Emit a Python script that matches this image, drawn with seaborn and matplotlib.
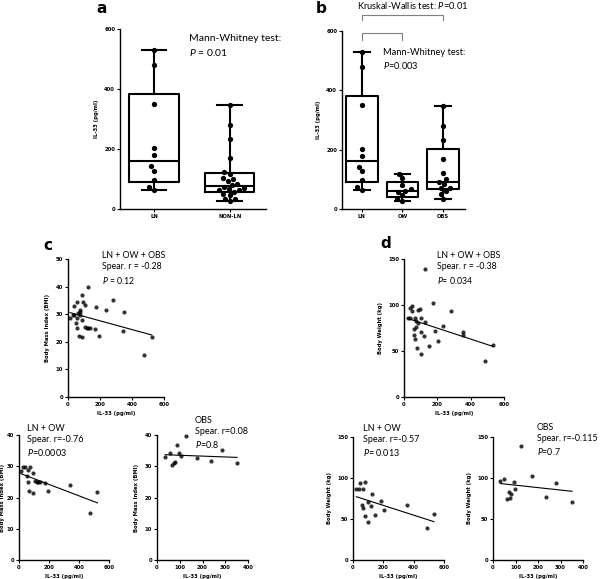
import numpy as np
import pandas as pd
import matplotlib
matplotlib.use("Agg")
import matplotlib.pyplot as plt
import seaborn as sns

ln_il33 = [530, 480, 350, 203, 180, 143, 128, 97, 75, 65]
ow_il33 = [117, 103, 81, 66, 62, 58, 47, 33, 26]
obs_il33 = [346, 279, 232, 170, 123, 100, 92, 84, 72, 70, 62, 50, 33]

# BMI vs IL-33 (panels e, f; c is both together)
lnow_bmi_x = [13, 29, 40, 57, 51, 57, 68, 73, 90, 90, 105, 117, 128, 138, 171, 193, 343, 475, 523]
lnow_bmi_y = [28.5, 29.8, 29.8, 28.8, 26.9, 25.1, 22.2, 29.8, 27.9, 21.6, 25.3, 24.9, 25.1, 25.1, 24.8, 22.2, 23.9, 15.2, 21.8]
obs_bmi_x = [36, 55, 65, 73, 77, 87, 95, 105, 128, 175, 236, 284, 352]
obs_bmi_y = [33.0, 34.3, 30.4, 30.9, 31.4, 36.9, 34.3, 33.4, 39.7, 32.5, 31.6, 35.1, 30.9]

# Body weight vs IL-33 (panels g, h; d is both together)
lnow_wt_x = [22, 37, 48, 81, 66, 59, 66, 77, 99, 99, 119, 127, 148, 183, 205, 356, 488, 534]
lnow_wt_y = [86.3, 86.3, 93.5, 94.8, 86.3, 66.9, 63.3, 53.2, 71.0, 46.8, 66.1, 81.0, 55.2, 71.4, 60.9, 66.9, 39.5, 56.0]
obs_wt_x = [33, 50, 62, 70, 74, 81, 95, 99, 126, 173, 236, 281, 351]
obs_wt_y = [96.8, 98.8, 74.2, 82.7, 76.2, 80.2, 95.6, 86.3, 138.7, 102.4, 77.4, 94.0, 70.2]

W, H = 600, 579
plt.rcParams['font.family'] = ['Lato', 'DejaVu Sans']
plt.rcParams['mathtext.fontset'] = 'custom'
plt.rcParams['mathtext.it'] = 'Lato:italic'
plt.rcParams['mathtext.rm'] = 'Lato'

fig = plt.figure(figsize=(W / 100, H / 100), dpi=100)


def px_axes(l, t, r, b):
    return fig.add_axes([l / W, 1 - b / H, (r - l) / W, (b - t) / H])


def px_text(x, y, s, **kw):
    kw.setdefault('fontsize', 7.5)
    fig.text(x / W, 1 - y / H, s, va='top', ha='left', **kw)


def panel_label(x, y, s):
    px_text(x, y, s, fontsize=11, fontweight='bold', family='DejaVu Sans')


def style(ax, ylabel, xlabel=None, ypad=4):
    sns.despine(ax=ax)
    for sp in ('left', 'bottom'):
        ax.spines[sp].set_linewidth(1.0)
    ax.tick_params(direction='out', length=2, width=0.8, labelsize=3.8, pad=1.5)
    for lab in ax.get_xticklabels() + ax.get_yticklabels():
        lab.set_fontweight('bold')
        lab.set_family('DejaVu Sans')
    ax.set_ylabel(ylabel, fontsize=3.8, fontweight='bold', family='DejaVu Sans', labelpad=ypad)
    ax.set_xlabel(xlabel or '', fontsize=3.8, fontweight='bold', family='DejaVu Sans', labelpad=3)


def box_panel(ax, groups, names, width, xlim):
    df = pd.DataFrame({
        'group': np.concatenate([[n] * len(g) for n, g in zip(names, groups)]),
        'il33': np.concatenate(groups),
    })
    sns.swarmplot(data=df, x='group', y='il33', order=names, color='black',
                  size=3.8, ax=ax, zorder=3)
    # Prism-style quartiles, whiskers min to max
    stats = []
    for g in groups:
        q1, med, q3 = np.percentile(g, [25, 50, 75], method='weibull')
        stats.append(dict(med=med, q1=q1, q3=q3, whislo=min(g), whishi=max(g), fliers=[]))
    lw = 1.5
    ax.bxp(stats, positions=range(len(groups)), widths=width, showfliers=False,
           manage_ticks=False,
           boxprops=dict(color='black', linewidth=lw),
           whiskerprops=dict(color='black', linewidth=lw),
           capprops=dict(color='black', linewidth=lw),
           medianprops=dict(color='black', linewidth=lw))
    ax.set_xlim(*xlim)
    ax.set_ylim(0, 600)
    ax.set_yticks([0, 200, 400, 600])
    ax.set_xticks(range(len(names)))
    ax.set_xticklabels(names)
    style(ax, 'IL-33 (pg/ml)')


def reg_panel(ax, x, y, ylim, yticks, xmax, xticks, ylabel, ypad=4):
    sns.regplot(x=np.asarray(x, float), y=np.asarray(y, float), ax=ax, ci=None, color='black',
                scatter_kws={'s': 9, 'linewidths': 0, 'clip_on': False},
                line_kws={'linewidth': 0.8})
    ax.set_xlim(0, xmax)
    ax.set_ylim(*ylim)
    ax.set_xticks(xticks)
    ax.set_yticks(yticks)
    style(ax, ylabel, 'IL-33 (pg/ml)', ypad)


# a
ax_a = px_axes(120, 29, 266, 209)
box_panel(ax_a, [ln_il33, ow_il33 + obs_il33], ['LN', 'NON-LN'], 0.65, (-0.45, 1.48))
panel_label(96, 1, 'a')
px_text(189, 34, 'Mann-Whitney test:')
px_text(189, 47, '$P$ = 0.01')

# b
ax_b = px_axes(342, 31, 465, 209)
box_panel(ax_b, [ln_il33, ow_il33, obs_il33], ['LN', 'OW', 'OBS'], 0.78, (-0.49, 2.54))
panel_label(316, 1, 'b')
px_text(357, 0, 'Kruskal-Wallis test: $P$=0.01', fontsize=6.7)
px_text(383, 48, 'Mann-Whitney test:', fontsize=6.7)
px_text(383, 60, '$P$=0.003', fontsize=6.7)
br = dict(color='#7f7f7f', linewidth=0.8, clip_on=False)
ax_b.plot([0, 0, 2, 2], [637, 655, 655, 637], **br)
ax_b.plot([0, 0, 1, 1], [570, 593, 593, 570], **br)

# c
ax_c = px_axes(68, 259, 164, 397)
reg_panel(ax_c, lnow_bmi_x + obs_bmi_x, lnow_bmi_y + obs_bmi_y, (0, 50), range(0, 51, 10),
          600, [0, 200, 400, 600], 'Body Mass Index (BMI)')
panel_label(43, 238, 'c')
px_text(102, 251, 'LN + OW + OBS\nSpear. r = -0.28\n$P$ = 0.12', fontsize=6.3, linespacing=1.35)

# d
ax_d = px_axes(404, 259, 504, 397)
reg_panel(ax_d, lnow_wt_x + obs_wt_x, lnow_wt_y + obs_wt_y, (0, 150), [0, 50, 100, 150],
          600, [0, 200, 400, 600], 'Body Weight (kg)')
panel_label(380, 236, 'd')
px_text(437, 251, 'LN + OW + OBS\nSpear. r = -0.38\n$P$= 0.034', fontsize=6.3, linespacing=1.35)

# e
ax_e = px_axes(19, 435, 109, 560)
reg_panel(ax_e, lnow_bmi_x, lnow_bmi_y, (0, 40), range(0, 41, 10),
          600, [0, 200, 400, 600], 'Body Mass Index (BMI)', ypad=1.5)
px_text(27, 424, 'LN + OW\nSpear. r=-0.76\n$P$=0.0003', fontsize=6.5, linespacing=1.3)

# f
ax_f = px_axes(157, 435, 248, 560)
reg_panel(ax_f, obs_bmi_x, obs_bmi_y, (0, 40), range(0, 41, 10),
          400, range(0, 401, 100), 'Body Mass Index (BMI)')
px_text(195, 416, 'OBS\nSpear. r=0.08\n$P$=0.8', fontsize=6.5, linespacing=1.3)

# g
ax_g = px_axes(353, 437, 444, 560)
reg_panel(ax_g, lnow_wt_x, lnow_wt_y, (0, 150), [0, 50, 100, 150],
          600, [0, 200, 400, 600], 'Body Weight (kg)')
px_text(363, 424, 'LN + OW\nSpear. r=-0.57\n$P$= 0.013', fontsize=6.5, linespacing=1.3)

# h
ax_h = px_axes(493, 437, 583, 560)
reg_panel(ax_h, obs_wt_x, obs_wt_y, (0, 150), [0, 50, 100, 150],
          400, range(0, 401, 100), 'Body Weight (kg)')
px_text(537, 423, 'OBS\nSpear. r=-0.115\n$P$=0.7', fontsize=6.3, linespacing=1.3)

fig.savefig('out.png', dpi=100)
